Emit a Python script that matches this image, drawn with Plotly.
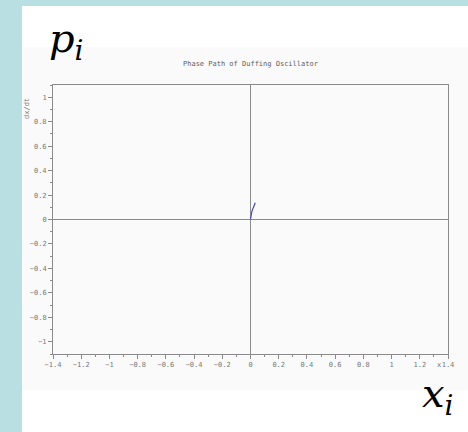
import plotly.graph_objects as go

# Phase path samples (x, dx/dt)
x_path = [0.0, 0.002, 0.005, 0.009, 0.014, 0.020, 0.027, 0.034]
v_path = [0.0, 0.025, 0.045, 0.062, 0.080, 0.100, 0.120, 0.137]

x_ticks = [-1.4, -1.2, -1.0, -0.8, -0.6, -0.4, -0.2, 0.0, 0.2, 0.4, 0.6, 0.8, 1.0, 1.2, 1.4]
x_tick_text = ["−1.4", "−1.2", "−1", "−0.8", "−0.6", "−0.4", "−0.2", "0",
               "0.2", "0.4", "0.6", "0.8", "1", "1.2", "1.4"]
y_ticks = [-1.0, -0.8, -0.6, -0.4, -0.2, 0.0, 0.2, 0.4, 0.6, 0.8, 1.0]
y_tick_text = ["−1", "−0.8", "−0.6", "−0.4", "−0.2", "0", "0.2", "0.4", "0.6", "0.8", "1"]

W, H = 468, 432
L, R, T, B = 53, 20, 85, 78
pw, ph = W - L - R, H - T - B


def px(x):
    return (x - L) / pw


def py(y):
    return (H - B - y) / ph


small = dict(family="DejaVu Sans Mono", size=7, color="#777777")
axis_col = "#8a8a8a"

fig = go.Figure()
fig.add_trace(go.Scatter(x=x_path, y=v_path, mode="lines",
                         line=dict(color="#4a4ac8", width=1.2),
                         showlegend=False, hoverinfo="skip"))

common = dict(showgrid=False, zeroline=True, zerolinecolor="#8a8a8a", zerolinewidth=1,
              showline=True, linecolor=axis_col, linewidth=1, mirror=True,
              ticks="outside", ticklen=4, tickcolor=axis_col, tickwidth=1,
              tickfont=small)

fig.update_xaxes(range=[-1.4, 1.4], tickvals=x_ticks, ticktext=x_tick_text,
                 minor=dict(ticks="outside", dtick=0.1, tick0=0, ticklen=2,
                            tickcolor=axis_col), **common)
fig.update_yaxes(range=[-1.1, 1.1], tickvals=y_ticks, ticktext=y_tick_text,
                 minor=dict(ticks="outside", dtick=0.1, tick0=0, ticklen=2,
                            tickcolor=axis_col), **common)

shapes = [
    dict(type="rect", xref="paper", yref="paper", layer="below",
         x0=px(22), x1=px(W + 5), y0=py(6), y1=py(H + 5),
         fillcolor="white", line=dict(width=0)),
    dict(type="rect", xref="paper", yref="paper", layer="below",
         x0=px(22), x1=px(W + 5), y0=py(47), y1=py(390),
         fillcolor="#fafafa", line=dict(width=0)),
]

big = dict(family="DejaVu Serif", size=40, color="black")

annotations = [
    dict(text="Phase Path of Duffing Oscillator", xref="paper", yref="paper",
         x=px(250), y=py(64), showarrow=False,
         font=dict(family="DejaVu Sans Mono", size=7, color="#606060"),
         xanchor="center", yanchor="middle"),
    dict(text="dx/dt", xref="paper", yref="paper", x=px(27), y=py(109),
         textangle=-90, showarrow=False, font=small, xanchor="center", yanchor="middle"),
    dict(text="x", xref="paper", yref="paper", x=px(439), y=py(365),
         showarrow=False, font=small, xanchor="center", yanchor="middle"),
    dict(text="<i>p</i><sub><i>i</i></sub>", xref="paper", yref="paper",
         x=px(47), y=py(41), showarrow=False, xanchor="left", yanchor="middle",
         font=big),
    dict(text="<i>x</i><sub><i>i</i></sub>", xref="paper", yref="paper",
         x=px(420), y=py(396), showarrow=False, xanchor="left", yanchor="middle",
         font=big),
]

fig.update_layout(width=W, height=H, autosize=False,
                  margin=dict(l=L, r=R, t=T, b=B, pad=0),
                  paper_bgcolor="#b9dfe3", plot_bgcolor="#fafafa",
                  shapes=shapes, annotations=annotations)

fig.write_html("out.html")
